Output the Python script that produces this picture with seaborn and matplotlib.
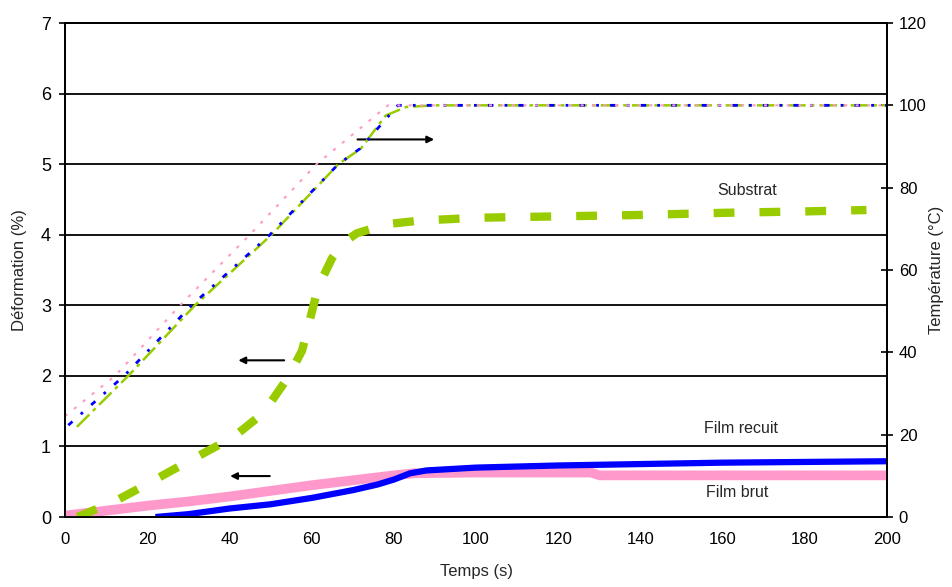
import numpy as np
import pandas as pd
import matplotlib
matplotlib.use("Agg")
import matplotlib.pyplot as plt
import seaborn as sns

# ---- data ----
# temperature curves (right axis, °C)
t_temp_pink = [0, 12.2, 28, 45, 61.2, 78.6, 90, 120, 150, 180, 200]
T_pink = [24.5, 34.3, 51.4, 68.6, 85.7, 100, 100, 100, 100, 100, 100]
t_temp_blue = [0.8, 14.4, 30.8, 49.9, 66.5, 71.8, 81, 90, 120, 150, 180, 200]
T_blue = [22.3, 34.3, 51.4, 68.6, 85.7, 89.5, 100, 100, 100, 100, 100, 100]
t_temp_green = [2.9, 15.4, 31.6, 50.3, 66.5, 72, 78, 83, 90, 120, 150, 180, 200]
T_green = [21.9, 34.3, 51.4, 68.6, 85.7, 89.5, 97.5, 99.6, 100, 100, 100, 100, 100]

# substrate deformation (left axis, %)
t_sub = [3, 11.7, 18.2, 26.3, 33.6, 40.9, 48.2, 54.3, 57.7, 59.6, 61.6, 65,
         68, 71, 78.3, 86.4, 100, 120, 140, 160, 180, 195]
d_sub = [0, 0.21, 0.41, 0.67, 0.9, 1.13, 1.47, 1.98, 2.36, 2.8, 3.26, 3.67,
         3.9, 4.02, 4.15, 4.2, 4.24, 4.26, 4.28, 4.31, 4.33, 4.35]

# film recuit (blue) and film brut (pink) deformation (left axis, %)
t_recuit = [22, 30, 40, 50, 60, 70, 76, 80, 84, 88, 100, 120, 140, 160, 180, 200]
d_recuit = [0, 0.04, 0.12, 0.18, 0.27, 0.38, 0.46, 0.53, 0.62, 0.66, 0.70,
            0.73, 0.75, 0.77, 0.78, 0.79]
t_brut = [0, 10, 20, 30, 40, 50, 60, 70, 80, 85, 100, 128, 130, 200]
d_brut = [0.02, 0.09, 0.16, 0.22, 0.29, 0.37, 0.45, 0.52, 0.59, 0.62, 0.63,
          0.63, 0.59, 0.59]

x_ticks = [0, 20, 40, 60, 80, 100, 120, 140, 160, 180, 200]
y_left_ticks = [0, 1, 2, 3, 4, 5, 6, 7]
y_right_ticks = [0, 20, 40, 60, 80, 100, 120]

PINK = "#FF99CC"
BLUE = "#0000FF"
GREEN = "#99CC00"

sns.set_style("white")
plt.rcParams["font.family"] = ["Liberation Sans", "DejaVu Sans"]

fig = plt.figure(figsize=(9.52, 5.87), dpi=100)
ax = fig.add_axes([65 / 952, 1 - 517 / 587, (887 - 65) / 952, (517 - 23) / 587])
ax2 = ax.twinx()

# gridlines
for v in y_left_ticks[1:]:
    ax.axhline(v, color="black", lw=1.3, zorder=0)

# film curves
sns.lineplot(x=t_brut, y=d_brut, ax=ax, color=PINK, lw=7, zorder=3,
             solid_capstyle="butt", sort=False)
sns.lineplot(x=t_recuit, y=d_recuit, ax=ax, color=BLUE, lw=4.5, zorder=4,
             solid_capstyle="butt", sort=False)
# substrate
sns.lineplot(x=t_sub, y=d_sub, ax=ax, color=GREEN, lw=6, zorder=5,
             dashes=False, sort=False, linestyle=(0, (2.5, 3.0)))

# temperature curves
sns.lineplot(x=t_temp_green, y=T_green, ax=ax2, color=GREEN, lw=1.8,
             sort=False, linestyle=(0, (7, 2, 1.5, 2)))
sns.lineplot(x=t_temp_blue, y=T_blue, ax=ax2, color=BLUE, lw=2.0,
             sort=False, linestyle=(0, (2, 4, 1, 4)))
sns.lineplot(x=t_temp_pink, y=T_pink, ax=ax2, color=PINK, lw=1.5,
             sort=False, linestyle=(0, (1.5, 4)))

ax.set_xlim(0, 200)
ax.set_ylim(0, 7)
ax2.set_ylim(0, 120)
ax.set_xticks(x_ticks)
ax.set_yticks(y_left_ticks)
ax2.set_yticks(y_right_ticks)
ax.set_xticklabels([str(v) for v in x_ticks], fontsize=12)
ax.set_yticklabels([str(v) for v in y_left_ticks], fontsize=13)
ax2.set_yticklabels([str(v) for v in y_right_ticks], fontsize=12)

for a in (ax, ax2):
    for s in a.spines.values():
        s.set_color("black")
        s.set_linewidth(1.3)
ax.tick_params(axis="x", direction="out", length=5, width=1.2, pad=6, colors="black")
ax.tick_params(axis="y", direction="out", length=4, width=1.2, pad=6, colors="black")
ax2.tick_params(axis="y", direction="inout", length=9, width=1.2, pad=4, colors="black")

ax.set_xlabel("Temps (s)", fontsize=12, labelpad=12)
ax.set_ylabel("Déformation (%)", fontsize=12, labelpad=10)
ax2.set_ylabel("Température (°C)", fontsize=12, labelpad=2)

# arrows
arrow_kw = dict(arrowstyle="-|>", color="black", lw=1.5, mutation_scale=10)
ax.annotate("", xy=(90.5, 5.35), xytext=(70.5, 5.35), arrowprops=arrow_kw, zorder=6)
ax.annotate("", xy=(41.5, 2.22), xytext=(54, 2.22), arrowprops=arrow_kw, zorder=6)
ax.annotate("", xy=(39.5, 0.58), xytext=(50.5, 0.58), arrowprops=arrow_kw, zorder=6)

# labels
ax.text(166, 4.63, "Substrat", ha="center", va="center", fontsize=11.5)
ax.text(164.5, 1.26, "Film recuit", ha="center", va="center", fontsize=11.5)
ax.text(163.5, 0.35, "Film brut", ha="center", va="center", fontsize=11.5)

fig.savefig("out.png", dpi=100)
